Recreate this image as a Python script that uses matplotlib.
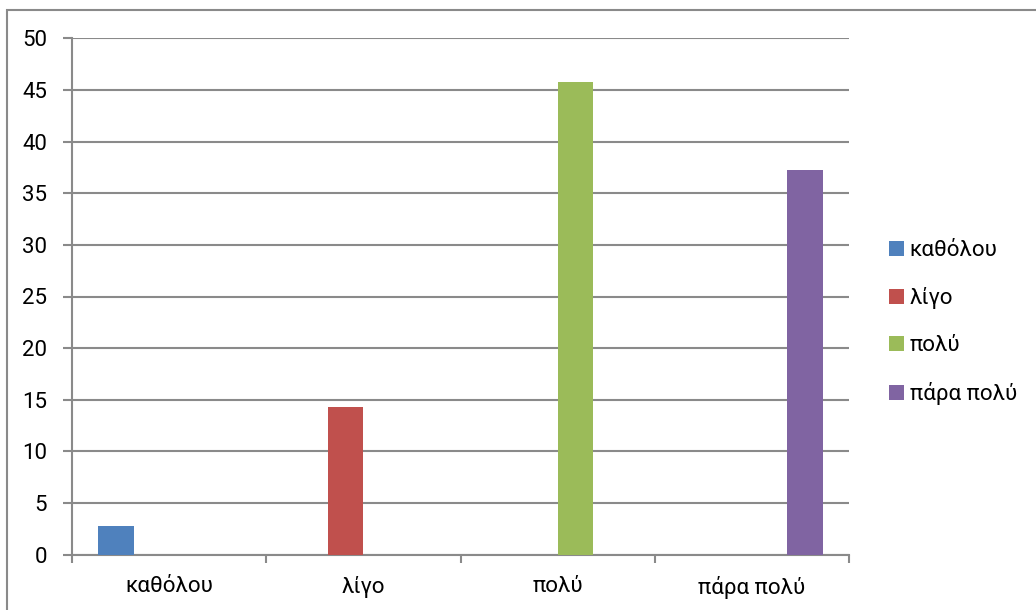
import matplotlib
matplotlib.use("Agg")
import matplotlib.pyplot as plt
from matplotlib.patches import Rectangle
import numpy as np

categories = ["καθόλου", "λίγο", "πολύ", "πάρα πολύ"]
series_names = ["καθόλου", "λίγο", "πολύ", "πάρα πολύ"]
# one row per series, one value per category
series_values = [
    [2.8, 0, 0, 0],
    [0, 14.3, 0, 0],
    [0, 0, 45.8, 0],
    [0, 0, 0, 37.2],
]
colors = ["#4F81BD", "#C0504D", "#9BBB59", "#8064A2"]
y_ticks = [0, 5, 10, 15, 20, 25, 30, 35, 40, 45, 50]

plt.rcParams["font.family"] = ["Roboto", "DejaVu Sans"]
FS = 16

W, H = 1036, 610
fig = plt.figure(figsize=(W / 100, H / 100), dpi=100)

# outer chart frame
fig.patches.append(Rectangle((7 / W, -0.1), 1.2, 1 - 10 / H + 0.1,
                             transform=fig.transFigure, fill=False,
                             edgecolor="#8a8a8a", linewidth=1.5, zorder=0))

ax = fig.add_axes([72 / W, (H - 554.7) / H, (849 - 72) / W, (554.7 - 38.3) / H])

n = len(series_names)
width = 1 / 5.5
x = np.arange(len(categories))
for j, (name, vals, c) in enumerate(zip(series_names, series_values, colors)):
    ax.bar(x + (j - (n - 1) / 2) * width, vals, width=width, color=c,
           label=name, zorder=3)

grid_color = "#8a8a8a"
ax.set_xlim(-0.5, len(categories) - 0.5)
ax.set_ylim(0, 50)
ax.set_yticks(y_ticks)
ax.yaxis.grid(True, color=grid_color, linewidth=1.5, zorder=0)
ax.set_axisbelow(True)

for side in ("top", "right"):
    ax.spines[side].set_visible(False)
for side in ("left", "bottom"):
    ax.spines[side].set_color(grid_color)
    ax.spines[side].set_linewidth(1.5)

ax.set_xticks(np.arange(-0.5, len(categories)), minor=False)
ax.set_xticklabels([])
ax.set_xticks(x, minor=True)
ax.set_xticklabels(categories, minor=True)
ax.tick_params(axis="x", which="major", length=5.5, width=1.5, color=grid_color)
ax.tick_params(axis="x", which="minor", length=0, pad=15, labelsize=FS)
ax.tick_params(axis="y", length=6.5, width=1.5, color=grid_color, pad=11.5,
               labelsize=FS)

leg = fig.legend(loc="upper left", bbox_to_anchor=(889 / W, 1 - 240 / H),
                 frameon=False, fontsize=FS, handlelength=0.68,
                 handleheight=0.68, handletextpad=0.25, labelspacing=1.17,
                 borderaxespad=0, borderpad=0)

fig.savefig("out.png", dpi=100, facecolor="white")
